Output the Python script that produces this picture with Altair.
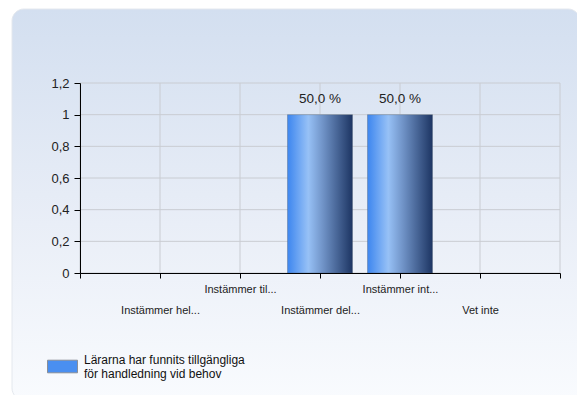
import json
import altair as alt
import pandas as pd

# ---- data ----
categories = ["Instämmer hel...", "Instämmer til...", "Instämmer del...", "Instämmer int...", "Vet inte"]
positions = [1, 2, 3, 4, 5]
values = [0, 0, 1, 1, 0]
percent_labels = ["0,0 %", "0,0 %", "50,0 %", "50,0 %", "0,0 %"]
series_name = "Lärarna har funnits tillgängliga för handledning vid behov"
legend_lines = ["Lärarna har funnits tillgängliga", "för handledning vid behov"]
y_ticks = [0, 0.2, 0.4, 0.6, 0.8, 1.0, 1.2]
x_ticks = [0, 1, 2, 3, 4, 5, 6]

df = pd.DataFrame({"pos": positions, "cat": categories, "value": values, "label": percent_labels})
df_nz = df[df["value"] > 0]
gx = pd.DataFrame({"g": x_ticks})
gy = pd.DataFrame({"g": y_ticks})
deco = pd.DataFrame({"a": [0]})
leg = pd.DataFrame({"series": [series_name]})

FONT = "Liberation Sans"
W, H = 480, 190

xscale = alt.Scale(domain=[0, 6], nice=False, zero=False, padding=0)
yscale = alt.Scale(domain=[0, 1.2], nice=False)

label_js = json.dumps(categories, ensure_ascii=False)
x_axis = alt.Axis(
    values=x_ticks,
    labelExpr=f"datum.value >= 1 && datum.value <= 5 ? {label_js}[datum.value - 1] : ''",
    labelPadding={"condition": {"test": "datum.value % 2 == 1", "value": 26}, "value": 5},
    labelOverlap=False,
    labelFlush=False,
    labelBaseline="top",
    labelFont=FONT,
    labelFontSize=11,
    labelColor="#222222",
    domainColor="#000000",
    tickColor="#000000",
    tickSize=5,
    grid=False,
    title=None,
    zindex=1,
)
y_axis = alt.Axis(
    values=y_ticks,
    labelExpr="replace(format(datum.value, '~g'), '.', ',')",
    labelOverlap=False,
    labelFont=FONT,
    labelFontSize=13,
    labelColor="#222222",
    labelPadding=5,
    domainColor="#000000",
    tickColor="#000000",
    tickSize=6,
    grid=False,
    title=None,
    zindex=1,
)

# background panel (decoration)
shadow = alt.Chart(deco).mark_rect(cornerRadius=12, color="#9a9a9a", opacity=0.45).encode(
    x=alt.value(-65), x2=alt.value(502), y=alt.value(-71), y2=alt.value(319)
)
panel = alt.Chart(deco).mark_rect(
    cornerRadius=12,
    stroke="#e4e8ee",
    strokeWidth=1,
    color=alt.Gradient(
        gradient="linear",
        x1=0, x2=0, y1=0, y2=1,
        stops=[
            alt.GradientStop(offset=0, color="#d3dff0"),
            alt.GradientStop(offset=0.55, color="#e9eef7"),
            alt.GradientStop(offset=1, color="#f9fbfe"),
        ],
    ),
).encode(x=alt.value(-68), x2=alt.value(500), y=alt.value(-74), y2=alt.value(317))

vgrid = alt.Chart(gx).mark_rule(color="#c9ccd2", strokeWidth=1).encode(
    x=alt.X("g:Q", scale=xscale, axis=x_axis)
)
hgrid = alt.Chart(gy).mark_rule(color="#c9ccd2", strokeWidth=1).encode(
    y=alt.Y("g:Q", scale=yscale, axis=y_axis)
)

bars = alt.Chart(df_nz).mark_bar(
    size=65,
    stroke="#4a5a70",
    strokeWidth=0.6,
    strokeOpacity=0.6,
    color=alt.Gradient(
        gradient="linear",
        x1=0, x2=1, y1=0, y2=0,
        stops=[
            alt.GradientStop(offset=0, color="#3d86ef"),
            alt.GradientStop(offset=0.32, color="#97c1f6"),
            alt.GradientStop(offset=0.55, color="#6f92c6"),
            alt.GradientStop(offset=1, color="#1d3563"),
        ],
    ),
).encode(
    x=alt.X("pos:Q", scale=xscale, axis=x_axis),
    y=alt.Y("value:Q", scale=yscale, axis=y_axis),
)

texts = alt.Chart(df_nz).mark_text(
    font=FONT, fontSize=13.5, color="#222222", baseline="bottom", dy=-9
).encode(
    x=alt.X("pos:Q", scale=xscale, axis=x_axis),
    y=alt.Y("value:Q", scale=yscale, axis=y_axis),
    text="label:N",
)

legend_js = json.dumps(legend_lines, ensure_ascii=False)
legend_layer = alt.Chart(leg).mark_square(opacity=0).encode(
    color=alt.Color(
        "series:N",
        scale=alt.Scale(range=["#4a8ff0"]),
        legend=alt.Legend(
            orient="none",
            legendX=-33,
            legendY=268,
            title=None,
            padding=0,
            symbolType="M-1,-0.42H1V0.42H-1Z",
            symbolSize=900,
            symbolOpacity=1,
            symbolFillColor="#4a8ff0",
            symbolStrokeColor="#8a8f98",
            symbolStrokeWidth=1,
            labelExpr=legend_js,
            labelBaseline="bottom",
            labelFont=FONT,
            labelFontSize=12,
            labelColor="#111111",
            labelOffset=6,
            labelLimit=0,
        ),
    )
)

chart = alt.layer(shadow, panel, vgrid, hgrid, bars, texts, legend_layer).properties(
    width=W,
    height=H,
    autosize=alt.AutoSizeParams(type="none"),
    padding={"left": 72, "top": 75, "right": 17, "bottom": 122},
    background="#ffffff",
).configure_view(stroke=None)

chart.save("out.html", embed_options={"renderer": "svg", "actions": False})
